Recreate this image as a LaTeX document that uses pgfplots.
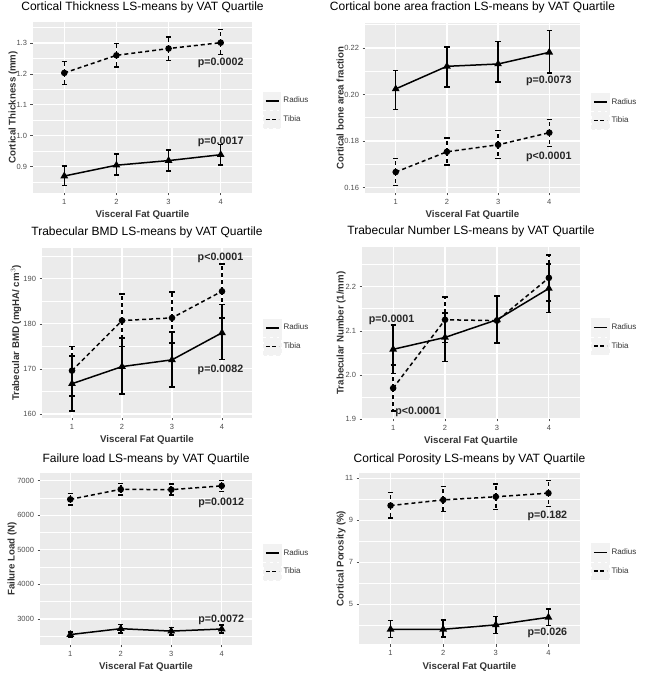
\documentclass[border=0pt]{standalone}
\usepackage{fontspec}
\setmainfont{Liberation Sans}
\usepackage{pgfplots}
\usepackage{pgfplotstable}
\pgfplotsset{compat=1.18}
\definecolor{panelgray}{HTML}{EBEBEB}
\definecolor{tickgray}{HTML}{4D4D4D}
\definecolor{labgray}{HTML}{333333}
\definecolor{keygray}{HTML}{F2F2F2}

% x mean lower upper
\pgfplotstableread{
x y lo hi
1 0.869 0.839 0.901
2 0.904 0.873 0.941
3 0.919 0.886 0.954
4 0.938 0.904 0.971
}\ctR
\pgfplotstableread{
x y lo hi
1 1.203 1.166 1.240
2 1.260 1.222 1.298
3 1.282 1.244 1.320
4 1.301 1.263 1.343
}\ctT
\pgfplotstableread{
x y lo hi
1 0.2024 0.1936 0.2104
2 0.2121 0.2033 0.2203
3 0.2131 0.2054 0.2227
4 0.2181 0.2093 0.2274
}\cbR
\pgfplotstableread{
x y lo hi
1 0.1667 0.1610 0.1726
2 0.1754 0.1697 0.1814
3 0.1784 0.1726 0.1846
4 0.1836 0.1776 0.1893
}\cbT
\pgfplotstableread{
x y lo hi
1 166.7 160.7 172.8
2 170.5 164.4 176.8
3 172.0 166.0 178.2
4 178.0 172.1 184.3
}\tbR
\pgfplotstableread{
x y lo hi
1 169.6 164.0 175.0
2 180.7 175.0 186.6
3 181.3 175.7 187.0
4 187.2 181.3 193.2
}\tbT
\pgfplotstableread{
x y lo hi
1 2.058 2.003 2.113
2 2.085 2.030 2.140
3 2.125 2.072 2.180
4 2.196 2.142 2.251
}\tnR
\pgfplotstableread{
x y lo hi
1 1.970 1.918 2.022
2 2.125 2.073 2.177
3 2.123 2.072 2.178
4 2.220 2.167 2.272
}\tnT
\pgfplotstableread{
x y lo hi
1 2550 2470 2630
2 2720 2600 2840
3 2650 2540 2760
4 2710 2600 2820
}\flR
\pgfplotstableread{
x y lo hi
1 6460 6300 6630
2 6750 6590 6920
3 6740 6580 6910
4 6850 6690 7010
}\flT
\pgfplotstableread{
x y lo hi
1 3.81 3.41 4.22
2 3.81 3.44 4.25
3 4.02 3.62 4.41
4 4.38 3.98 4.78
}\cpR
\pgfplotstableread{
x y lo hi
1 9.70 9.10 10.32
2 9.97 9.41 10.60
3 10.12 9.52 10.73
4 10.29 9.65 10.89
}\cpT

\tikzset{pv/.style={font=\bfseries\fontsize{10.7}{12}\selectfont, text=black!85}}
\pgfplotsset{
  table/ebt/.style={x=x, y=y, y error plus expr=\thisrow{hi}-\thisrow{y}, y error minus expr=\thisrow{y}-\thisrow{lo}},
  gg/.style={
    scale only axis,
    anchor=south west,
    axis background/.style={fill=panelgray},
    axis line style={draw=none},
    xmin=0.4, xmax=4.6,
    xtick={1,2,3,4},
    xtick pos=left, ytick pos=left,
    grid=both,
    major grid style={white, line width=1.2pt},
    minor grid style={white, line width=0.6pt},
    tick align=outside,
    major tick length=2.5pt,
    minor tick length=0pt,
    tick style={draw=tickgray, line width=0.5pt},
    ticklabel style={font=\fontsize{7.5}{8}\selectfont, text=tickgray},
    /pgf/number format/assume math mode=true,
    title style={font=\fontsize{12}{14}\selectfont, text=black, at={(0.5,1)}, anchor=center},
    xlabel={Visceral Fat Quartile},
    label style={font=\bfseries\fontsize{9.7}{11}\selectfont, text=labgray},
    xlabel style={anchor=center},
    ylabel style={anchor=center},
    legend style={draw=none, fill=none, inner sep=0pt, outer sep=0pt,
      font=\fontsize{8}{9}\selectfont, text=labgray,
      anchor=west, cells={anchor=west}, row sep=0pt},
    legend image code/.code={\fill[keygray] (0pt,-8.5pt) rectangle (17pt,8.5pt);
      \draw[#1] (2pt,0pt) -- (15pt,0pt);},
    clip=false,
  },
  radius/.style={black, line width=1.5pt, mark=triangle*, mark size=3pt,
    error bars/y dir=both, error bars/y explicit,
    error bars/error bar style={line width=1.5pt, solid},
    error bars/error mark options={rotate=90, line width=1.5pt, mark size=2.6pt, solid}},
  tibia/.style={black, line width=1.5pt, dash pattern=on 4pt off 3pt,
    mark=*, mark size=2.5pt, mark options={solid},
    error bars/y dir=both, error bars/y explicit,
    error bars/error bar style={line width=1.5pt, dash pattern=on 4pt off 3pt},
    error bars/error mark options={rotate=90, line width=1.5pt, mark size=2.6pt, solid}},
}
\newcommand\leg{%
  \addlegendimage{black, line width=1.5pt}\addlegendentry{Radius}
  \addlegendimage{black, line width=1.5pt, dash pattern=on 4pt off 2.5pt}\addlegendentry{Tibia}}

\begin{document}
\begin{tikzpicture}
\path[use as bounding box] (0pt,0pt) rectangle (645pt,678pt);

% Panel 1
\begin{axis}[gg, at={(33pt,485pt)}, width=219pt, height=171pt,
  ymin=0.814, ymax=1.368,
  ytick={0.9,1.0,1.1,1.2,1.3}, minor ytick={0.85,0.95,1.05,1.15,1.25,1.35},
  yticklabel style={/pgf/number format/.cd, fixed, fixed zerofill, precision=1},
  title={Cortical Thickness LS-means by VAT Quartile}, title style={yshift=9pt},
  ylabel={Cortical Thickness (mm)},
  xlabel style={at={(axis description cs:0.5,-0.129)}},
  ylabel style={at={(axis description cs:-0.091,0.5)}},
  legend style={at={(axis description cs:1,0.485)}, xshift=11pt}]
\addplot[radius, forget plot] table[ebt]{\ctR};
\addplot[tibia, forget plot] table[ebt]{\ctT};
\leg
\node[pv] at (axis cs:4,1.234) {p=0.0002};
\node[pv] at (axis cs:4,0.981) {p=0.0017};
\end{axis}

% Panel 2
\begin{axis}[gg, at={(365pt,485pt)}, width=215pt, height=170pt,
  ymin=0.1577, ymax=0.2307,
  ytick={0.16,0.18,0.20,0.22}, minor ytick={0.17,0.19,0.21,0.23},
  yticklabel style={/pgf/number format/.cd, fixed, fixed zerofill, precision=2},
  title={Cortical bone area fraction LS-means by VAT Quartile}, title style={yshift=10pt},
  ylabel={Cortical bone area fraction},
  xlabel style={at={(axis description cs:0.5,-0.129)}},
  ylabel style={at={(axis description cs:-0.116,0.5)}},
  legend style={at={(axis description cs:1,0.48)}, xshift=11pt}]
\addplot[radius, forget plot] table[ebt]{\cbR};
\addplot[tibia, forget plot] table[ebt]{\cbT};
\leg
\node[pv] at (axis cs:3.99,0.2057) {p=0.0073};
\node[pv] at (axis cs:3.99,0.1734) {p<0.0001};
\end{axis}

% Panel 3
\begin{axis}[gg, at={(42pt,260pt)}, width=210pt, height=170pt,
  ymin=159.1, ymax=196.8,
  ytick={160,170,180,190}, minor ytick={165,175,185,195},
  title={Trabecular BMD LS-means by VAT Quartile}, title style={yshift=10pt},
  ylabel={Trabecular BMD (mgHA/ cm$^{3}$)},
  xlabel style={at={(axis description cs:0.5,-0.129)}},
  ylabel style={at={(axis description cs:-0.124,0.5)}},
  legend style={at={(axis description cs:1,0.476)}, xshift=11pt}]
\addplot[radius, forget plot] table[ebt]{\tbR};
\addplot[tibia, forget plot] table[ebt]{\tbT};
\leg
\node[pv] at (axis cs:3.97,194.6) {p<0.0001};
\node[pv] at (axis cs:3.97,169.7) {p=0.0082};
\end{axis}

% Panel 4
\begin{axis}[gg, at={(362pt,259pt)}, width=218pt, height=172pt,
  ymin=1.900, ymax=2.290,
  ytick={1.9,2.0,2.1,2.2}, minor ytick={1.95,2.05,2.15,2.25},
  yticklabel style={/pgf/number format/.cd, fixed, fixed zerofill, precision=1},
  title={Trabecular Number LS-means by VAT Quartile}, title style={yshift=10pt},
  ylabel={Trabecular Number (1/mm)},
  xlabel style={at={(axis description cs:0.5,-0.128)}},
  ylabel style={at={(axis description cs:-0.096,0.5)}},
  legend style={at={(axis description cs:1,0.477)}, xshift=11pt}]
\addplot[radius, forget plot] table[ebt]{\tnR};
\addplot[tibia, forget plot] table[ebt]{\tnT};
\leg
\node[pv] at (axis cs:0.97,2.124) {p=0.0001};
\node[pv] at (axis cs:1.48,1.917) {p<0.0001};
\end{axis}

% Panel 5
\begin{axis}[gg, at={(40pt,33pt)}, width=212pt, height=172pt,
  ymin=2248, ymax=7222,
  ytick={3000,4000,5000,6000,7000}, minor ytick={2500,3500,4500,5500,6500},
  yticklabel style={/pgf/number format/.cd, set thousands separator={}},
  title={Failure load LS-means by VAT Quartile}, title style={yshift=8pt},
  ylabel={Failure Load (N)},
  xlabel style={at={(axis description cs:0.5,-0.128)}},
  ylabel style={at={(axis description cs:-0.132,0.5)}},
  legend style={at={(axis description cs:1,0.48)}, xshift=11pt}]
\addplot[radius, forget plot] table[ebt]{\flR};
\addplot[tibia, forget plot] table[ebt]{\flT};
\leg
\node[pv] at (axis cs:3.99,6345) {p=0.0012};
\node[pv] at (axis cs:3.99,2971) {p=0.0072};
\end{axis}

% Panel 6
\begin{axis}[gg, at={(359pt,34pt)}, width=221pt, height=171pt,
  ymin=3.11, ymax=11.25,
  ytick={5,7,9,11}, minor ytick={4,6,8,10},
  title={Cortical Porosity LS-means by VAT Quartile}, title style={yshift=8pt},
  ylabel={Cortical Porosity (\%)},
  xlabel style={at={(axis description cs:0.5,-0.134)}},
  ylabel style={at={(axis description cs:-0.081,0.5)}},
  legend style={at={(axis description cs:1,0.48)}, xshift=11pt}]
\addplot[radius, forget plot] table[ebt]{\cpR};
\addplot[tibia, forget plot] table[ebt]{\cpT};
\leg
\node[pv] at (axis cs:3.98,9.21) {p=0.182};
\node[pv] at (axis cs:3.98,3.62) {p=0.026};
\end{axis}
\end{tikzpicture}
\end{document}
